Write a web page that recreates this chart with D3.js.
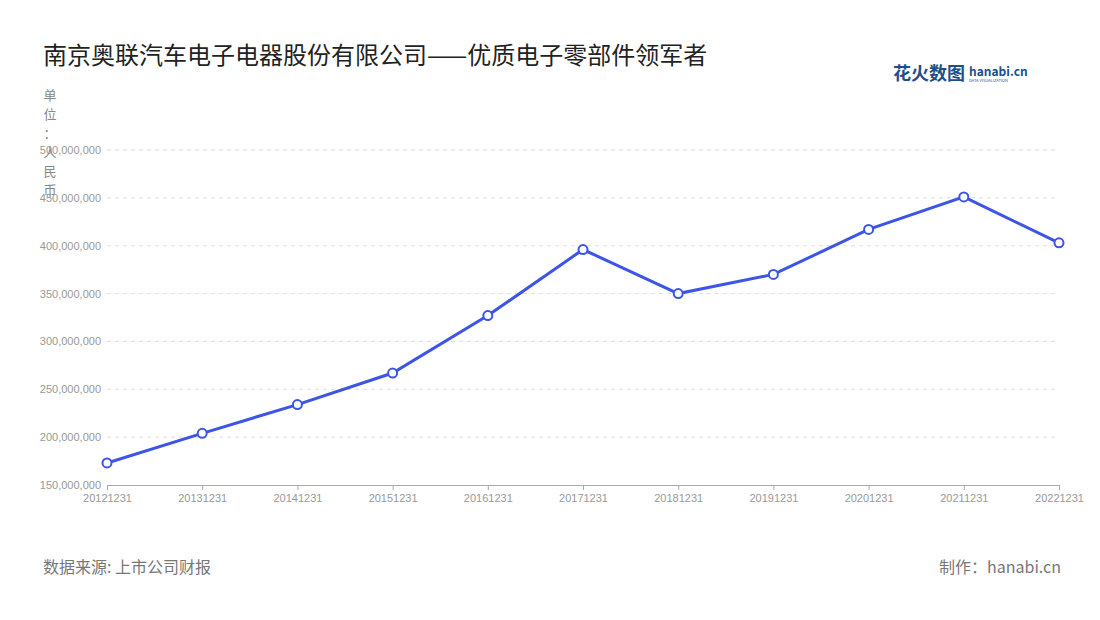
<!DOCTYPE html>
<html><head><meta charset="utf-8">
<script src="https://cdn.jsdelivr.net/npm/d3@7"></script>
<style>body{margin:0;background:#fff;font-family:"Noto Sans CJK SC","Noto Sans",sans-serif;}</style>
</head><body>
<svg width="1100" height="620"></svg>
<script>
const years = ["20121231","20131231","20141231","20151231","20161231","20171231","20181231","20191231","20201231","20211231","20221231"];
const values = [173e6,204e6,234e6,267e6,327e6,396e6,350e6,370e6,417e6,451e6,403e6];
const yTicks = [150e6,200e6,250e6,300e6,350e6,400e6,450e6,500e6];

const svg = d3.select("svg");
const plotLeft = 107, plotRight = 1059, plotTop = 150, plotBottom = 485;

const x = d3.scalePoint().domain(years).range([plotLeft, plotRight]);
const y = d3.scaleLinear().domain([150e6, 500e6]).range([plotBottom, plotTop]);

// title
svg.append("text").attr("x",43).attr("y",64).attr("font-size",24).attr("fill","#222")
  .text("南京奥联汽车电子电器股份有限公司——优质电子零部件领军者");

// logo
const logo = svg.append("g").attr("transform","translate(893,80)");
logo.append("text").attr("font-size",18).attr("font-weight","bold").attr("fill","#1f4e8c").text("花火数图");
logo.append("text").attr("x",76).attr("y",-4).attr("font-size",12).attr("font-weight","bold").attr("fill","#1f4e8c").text("hanabi.cn");
logo.append("text").attr("x",76).attr("y",2).attr("font-size",4).attr("fill","#1f4e8c").text("DATA VISUALIZATION");

// grid
svg.append("g").selectAll("line").data(yTicks.slice(1)).join("line")
  .attr("x1",plotLeft).attr("x2",plotRight).attr("y1",d=>y(d)).attr("y2",d=>y(d))
  .attr("stroke","#ddd").attr("stroke-dasharray","4,4");

// y axis
const yAxis = svg.append("g").attr("transform",`translate(${plotLeft},0)`)
  .call(d3.axisLeft(y).tickValues(yTicks).tickFormat(d3.format(",")).tickSize(0).tickPadding(6));
yAxis.select(".domain").remove();
yAxis.selectAll("text").attr("fill","#999").attr("font-size",11);

// x axis
const xAxis = svg.append("g").attr("transform",`translate(0,${plotBottom})`)
  .call(d3.axisBottom(x).tickSize(5).tickPadding(4));
xAxis.select(".domain").attr("stroke","#aaa");
xAxis.selectAll("line").attr("stroke","#aaa");
xAxis.selectAll("text").attr("fill","#999").attr("font-size",11);

// unit label vertical
const unit = ["单","位","：","人","民","币"];
svg.append("g").selectAll("text").data(unit).join("text")
  .attr("x",50).attr("y",(d,i)=>100+i*19).attr("text-anchor","middle")
  .attr("font-size",13).attr("fill","#888").text(d=>d);

// line
const data = years.map((d,i)=>({k:d,v:values[i]}));
svg.append("path").datum(data)
  .attr("d", d3.line().x(d=>x(d.k)).y(d=>y(d.v)))
  .attr("fill","none").attr("stroke","#3d55e6").attr("stroke-width",3);
svg.append("g").selectAll("circle").data(data).join("circle")
  .attr("cx",d=>x(d.k)).attr("cy",d=>y(d.v)).attr("r",4.5)
  .attr("fill","#fff").attr("stroke","#3d55e6").attr("stroke-width",2);

// footer
svg.append("text").attr("x",43).attr("y",573).attr("font-size",16).attr("fill","#777").text("数据来源: 上市公司财报");
svg.append("text").attr("x",1061).attr("y",573).attr("text-anchor","end").attr("font-size",16).attr("fill","#777").text("制作：hanabi.cn");
</script>
</body></html>
